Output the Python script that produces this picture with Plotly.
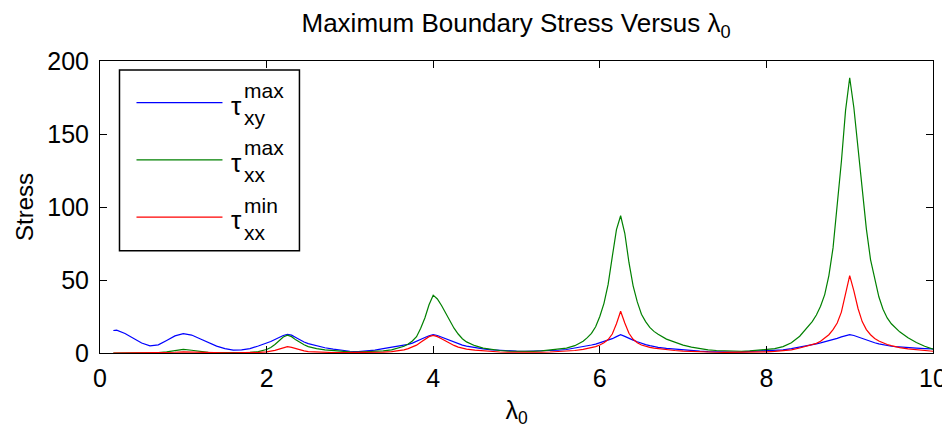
import plotly.graph_objects as go

# ---------------- data ----------------
lam = [0.16, 0.2, 0.3, 0.4, 0.5, 0.6, 0.7, 0.8, 0.9, 1.0, 1.1, 1.2, 1.3, 1.4, 1.5, 1.6, 1.7, 1.8, 1.9,
       2.0, 2.05, 2.1, 2.15, 2.2, 2.25, 2.3, 2.35, 2.4, 2.45, 2.5,
       2.6, 2.7, 2.8, 2.9, 3.0, 3.1, 3.2, 3.3, 3.4, 3.5, 3.6,
       3.65, 3.7, 3.75, 3.8, 3.85, 3.9, 3.95, 4.0, 4.05, 4.1, 4.15, 4.2, 4.25, 4.3, 4.35, 4.4,
       4.5, 4.6, 4.7, 4.8, 4.9, 5.0, 5.1, 5.2, 5.3, 5.4, 5.5, 5.6, 5.7, 5.8,
       5.85, 5.9, 5.95, 6.0, 6.05, 6.1, 6.15, 6.2, 6.25, 6.3, 6.35, 6.4, 6.45, 6.5, 6.55, 6.6, 6.65, 6.7,
       6.8, 6.9, 7.0, 7.1, 7.2, 7.3, 7.4, 7.5, 7.6, 7.7, 7.8, 7.9, 8.0, 8.1, 8.2, 8.3, 8.4,
       8.45, 8.5, 8.55, 8.6, 8.65, 8.7, 8.75, 8.8, 8.85, 8.9, 8.95, 9.0, 9.05, 9.1, 9.15, 9.2, 9.25, 9.3,
       9.35, 9.4, 9.45, 9.5, 9.55, 9.6,
       9.7, 9.8, 9.9, 10.0]

tau_xy_max = [15.4, 15.6, 13.4, 9.9, 6.8, 4.9, 5.6, 8.6, 11.7, 13.3, 12.3, 9.8, 7.0, 4.7, 3.0, 2.0, 2.1, 3.0, 4.8,
              6.6, 7.9, 9.3, 10.7, 12.0, 12.7, 12.2, 10.6, 8.8, 7.5, 6.4,
              4.8, 3.6, 2.6, 1.8, 1.2, 1.0, 1.3, 2.0, 3.0, 3.8, 4.6,
              5.2, 5.9, 6.8, 7.9, 9.2, 10.6, 11.8, 12.6, 12.0, 10.9, 9.6, 8.4, 7.3, 6.3, 5.4, 4.7,
              3.6, 2.8, 2.2, 1.8, 1.5, 1.3, 1.2, 1.3, 1.5, 1.7, 1.9, 2.4, 3.3, 4.2,
              4.9, 5.5, 6.1, 6.9, 7.8, 8.7, 9.8, 11.2, 12.6, 11.4, 9.9, 8.8, 7.7, 6.6, 5.7, 5.0, 4.4, 3.9,
              3.2, 2.6, 2.1, 1.7, 1.3, 1.0, 0.8, 0.7, 0.7, 0.8, 1.0, 1.2, 1.5, 1.8, 2.2, 3.0, 3.9,
              4.5, 5.0, 5.6, 6.2, 6.9, 7.6, 8.4, 9.1, 10.0, 11.0, 12.0, 12.6, 12.0, 10.9, 9.9, 9.0, 8.0, 7.0,
              6.2, 5.5, 5.0, 4.6, 4.3, 4.0,
              3.6, 3.3, 3.0, 2.8]

tau_xx_max = [0.0, 0.0, 0.0, 0.0, 0.05, 0.1, 0.3, 0.8, 1.8, 2.5, 1.9, 0.9, 0.4, 0.2, 0.1, 0.1, 0.2, 0.4, 0.9,
              2.4, 3.8, 5.8, 8.3, 11.0, 12.2, 11.2, 9.0, 7.2, 5.6, 4.4,
              3.0, 2.2, 1.6, 1.1, 0.8, 0.7, 0.8, 1.0, 1.4, 2.2, 3.6,
              4.6, 6.2, 8.2, 11.2, 17.0, 24.0, 33.0, 39.6, 37.0, 32.5, 27.0, 22.0, 17.0, 13.0, 9.8, 7.6,
              5.0, 3.4, 2.4, 1.7, 1.3, 1.1, 1.0, 1.1, 1.4, 1.9, 2.5, 3.4, 5.0, 8.0,
              10.5, 13.5, 18.0, 25.0, 34.0, 47.0, 66.0, 84.5, 94.0, 82.0, 62.0, 46.0, 35.0, 26.5, 21.5, 17.5, 14.8, 12.8,
              9.5, 7.2, 5.4, 4.0, 2.9, 2.2, 1.7, 1.4, 1.2, 1.2, 1.4, 1.8, 2.3, 3.0, 4.4, 7.0, 11.5,
              15.0, 18.0, 21.5, 26.0, 32.0, 40.0, 53.0, 72.0, 100.0, 131.0, 166.0, 188.5, 168.0, 140.0, 114.0, 85.0, 64.0, 50.0,
              38.5, 30.0, 24.0, 20.0, 17.0, 14.5,
              10.5, 7.2, 4.6, 2.6]

tau_xx_min = [0.0, 0.0, 0.0, 0.0, 0.0, 0.0, 0.05, 0.2, 0.5, 0.8, 0.6, 0.3, 0.1, 0.05, 0.05, 0.05, 0.1, 0.2, 0.4,
              0.8, 1.2, 1.8, 2.6, 3.6, 4.3, 3.9, 3.0, 2.1, 1.5, 1.0,
              0.6, 0.4, 0.3, 0.2, 0.2, 0.2, 0.3, 0.4, 0.6, 0.9, 1.5,
              2.2, 3.0, 4.0, 5.4, 7.4, 9.4, 11.2, 12.0, 11.2, 9.8, 8.2, 6.6, 5.2, 4.0, 3.2, 2.6,
              2.0, 1.4, 1.0, 0.7, 0.5, 0.4, 0.4, 0.4, 0.5, 0.7, 0.9, 1.2, 1.7, 2.5,
              3.0, 3.6, 4.4, 5.5, 7.0, 9.2, 13.0, 20.0, 28.6, 20.5, 13.5, 9.4, 7.0, 5.5, 4.5, 3.8, 3.3, 2.9,
              2.2, 1.7, 1.3, 1.0, 0.8, 0.6, 0.5, 0.4, 0.4, 0.4, 0.5, 0.6, 0.8, 1.1, 1.5, 2.2, 3.4,
              4.1, 4.8, 5.6, 6.6, 8.0, 10.0, 12.5, 16.0, 20.5, 28.0, 40.0, 53.0, 42.5, 30.5, 21.5, 16.0, 12.5, 10.0,
              8.2, 6.8, 5.8, 5.0, 4.3, 3.7,
              2.8, 2.1, 1.6, 1.2]

x_ticks = [0, 2, 4, 6, 8, 10]
y_ticks = [0, 50, 100, 150, 200]

series = [
    ("τ<sup>max</sup><sub>xy</sub>", tau_xy_max, "#0000FF", "max", "xy"),
    ("τ<sup>max</sup><sub>xx</sub>", tau_xx_max, "#008000", "max", "xx"),
    ("τ<sup>min</sup><sub>xx</sub>", tau_xx_min, "#FF0000", "min", "xx"),
]

# ---------------- layout geometry ----------------
OFF = 8                      # default page margin of the html body
W, H = 950 - OFF, 433 - OFF  # figure size that fits the window
AX_L, AX_R, AX_T, AX_B = 99.5, 932.7, 61, 353.5   # plot box in screen pixels
ML = AX_L - OFF
MT = AX_T - OFF
PW = AX_R - AX_L
PH = AX_B - AX_T
MR = W - ML - PW
MB = H - MT - PH
FONT = "Liberation Sans, Arial, Helvetica, sans-serif"


def px2paper_x(px):
    return (px - AX_L) / PW


def px2paper_y(py):
    return (AX_B - py) / PH


fig = go.Figure()
for name, vals, col, _, _ in series:
    fig.add_trace(go.Scatter(x=lam, y=vals, mode="lines", name=name,
                             line=dict(color=col, width=1.2), showlegend=False))

axis_common = dict(showline=True, linecolor="black", linewidth=1, mirror="allticks",
                   ticks="inside", ticklen=7, tickcolor="black", tickwidth=1,
                   showgrid=False, zeroline=False,
                   tickfont=dict(family=FONT, size=25, color="black"), automargin=False)

fig.update_layout(
    width=W, height=H,
    margin=dict(l=ML, r=MR, t=MT, b=MB, pad=0),
    paper_bgcolor="white", plot_bgcolor="white",
    font=dict(family=FONT, color="black"),
    title=dict(text="Maximum Boundary Stress Versus λ<sub>0</sub>",
               font=dict(family=FONT, size=26, color="black"),
               x=(ML + PW / 2) / W, xanchor="center",
               y=1 - 15 / H, yanchor="middle", yref="container"),
    xaxis=dict(range=[0, 10], tickvals=x_ticks, ticktext=[str(v) for v in x_ticks],
               ticklabelstandoff=3,
               title=dict(text="λ<sub>0</sub>", font=dict(family=FONT, size=25, color="black"), standoff=10),
               **axis_common),
    yaxis=dict(range=[0, 200], tickvals=y_ticks, ticktext=[str(v) for v in y_ticks],
               ticklabelstandoff=5,
               title=dict(text="Stress", font=dict(family=FONT, size=24, color="black"), standoff=6),
               **axis_common),
)

# ---------------- custom MATLAB-like legend ----------------
shapes = [dict(type="rect", xref="paper", yref="paper",
               x0=px2paper_x(119), x1=px2paper_x(299), y0=px2paper_y(251), y1=px2paper_y(70),
               line=dict(color="black", width=1.5), fillcolor="white", layer="above")]
annotations = []
line_y = [102.7, 160.0, 217.3]
for (name, vals, col, sup, sub), ly in zip(series, line_y):
    shapes.append(dict(type="line", xref="paper", yref="paper",
                       x0=px2paper_x(136), x1=px2paper_x(222), y0=px2paper_y(ly), y1=px2paper_y(ly),
                       line=dict(color=col, width=1.2), layer="above"))
    annotations.append(dict(text="τ", xref="paper", yref="paper", x=px2paper_x(229), y=px2paper_y(ly + 3),
                            xanchor="left", yanchor="middle", showarrow=False,
                            font=dict(family=FONT, size=26, color="black")))
    annotations.append(dict(text=sup, xref="paper", yref="paper", x=px2paper_x(242), y=px2paper_y(ly - 12),
                            xanchor="left", yanchor="middle", showarrow=False,
                            font=dict(family=FONT, size=21, color="black")))
    annotations.append(dict(text=sub, xref="paper", yref="paper", x=px2paper_x(242), y=px2paper_y(ly + 15),
                            xanchor="left", yanchor="middle", showarrow=False,
                            font=dict(family=FONT, size=21, color="black")))

fig.update_layout(shapes=shapes, annotations=annotations)

fig.write_html("out.html")
